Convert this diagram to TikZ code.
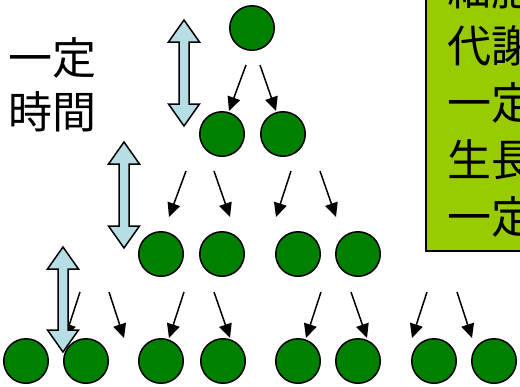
\documentclass[tikz,border=0pt]{standalone}
\usepackage{fontspec}
\setmainfont{Noto Sans CJK JP}
\usetikzlibrary{arrows.meta}
\definecolor{cellgreen}{RGB}{0,128,0}
\definecolor{boxgreen}{RGB}{153,204,0}
\definecolor{periodblue}{RGB}{183,222,228}
\begin{document}
\begin{tikzpicture}[x=1pt,y=-1pt,
  cell/.style={circle,draw=black,line width=1.5pt,fill=cellgreen,minimum size=44.5pt,inner sep=0pt},
  growarrow/.style={line width=1.5pt,-{Triangle[length=14pt,width=13pt]}},
  period/.style={draw=black,line width=1.5pt,fill=periodblue,line join=miter},
  notebox/.style={draw=black,line width=1.5pt,fill=boxgreen},
  bigtext/.style={anchor=base west,inner sep=0pt,font=\fontsize{44}{54}\selectfont}]
\useasboundingbox (0,0) rectangle (520,386);
\clip (0,0) rectangle (520,386);
% note box (cut by the frame)
\draw[notebox] (426,251) rectangle (620,-40);
\node[bigtext] (n1) at (447,5) {細胞};
\node[bigtext] (n2) at (447,62) {代謝};
\node[bigtext] (n3) at (447,119) {一定};
\node[bigtext] (n4) at (447,176) {生長};
\node[bigtext] (n5) at (447,233) {一定};
% left label
\node[bigtext] (l1) at (8,74) {一定};
\node[bigtext] (l2) at (8,128) {時間};
% cells
\node[cell] (a1) at (252,28) {};
\node[cell] (b1) at (222,134) {};
\node[cell] (b2) at (283,134) {};
\foreach \x [count=\i] in {161,222,298,358} \node[cell] (c\i) at (\x,254) {};
\foreach \x [count=\i] in {26,86,161,223,298,358,434,494} \node[cell] (d\i) at (\x,361) {};
% growth arrows
\foreach \xa/\ya/\xb/\yb in {246/65/229/111, 260/65/276/111,
  186/171/169/217, 214/171/230/217, 291/171/276/217, 320/171/336/217,
  80/292/65/338, 109/292/124/338, 184/292/169/338, 214/292/230/338,
  321/292/306/338, 351/292/367/338, 427/292/412/338, 457/292/472/338}
  \draw[growarrow] (\xa,\ya) -- (\xb,\yb);
% period double arrows
\foreach \cx/\ya/\yb in {184/20/126, 124/142/248, 63/247/352}
  \draw[period] (\cx,\ya) -- (\cx+15.5,\ya+22) -- (\cx+5,\ya+22) -- (\cx+5,\yb-22)
    -- (\cx+15.5,\yb-22) -- (\cx,\yb) -- (\cx-15.5,\yb-22) -- (\cx-5,\yb-22)
    -- (\cx-5,\ya+22) -- (\cx-15.5,\ya+22) -- cycle;
\end{tikzpicture}
\end{document}
